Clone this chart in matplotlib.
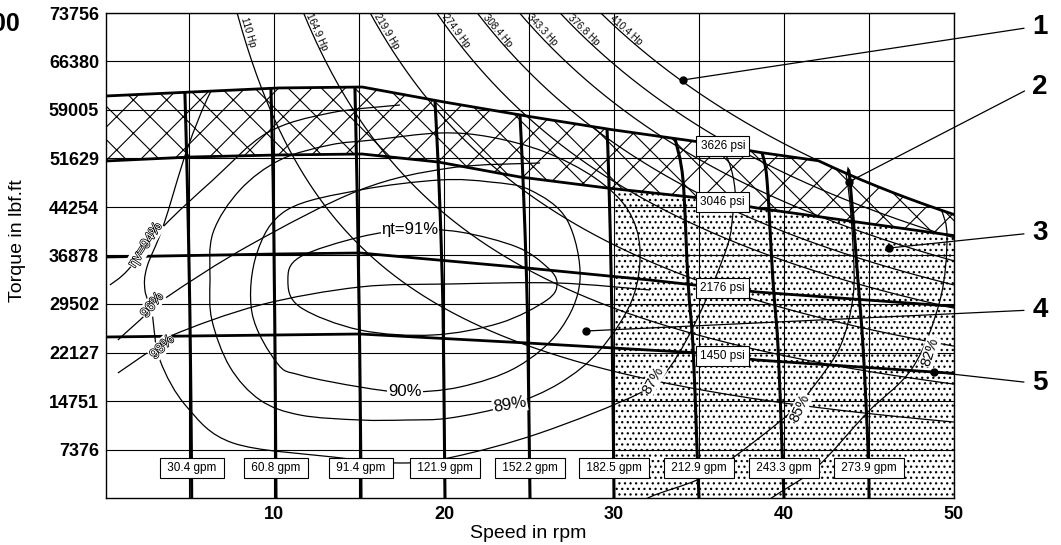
"""
Hydraulic motor performance chart: torque vs speed with efficiency maps.
"""

import numpy as np
import matplotlib

matplotlib.use("Agg")
import matplotlib.pyplot as plt
import matplotlib.patheffects as pe
from matplotlib.path import Path
from matplotlib.patches import PathPatch, Polygon

plt.rcParams["font.family"] = ["Liberation Sans", "DejaVu Sans"]
plt.rcParams["hatch.color"] = "black"
NARROW = ["Liberation Sans Narrow", "Liberation Sans", "DejaVu Sans"]

# ---- axes ----
speed_ticks = [10, 20, 30, 40, 50]
speed_minor = [5, 15, 25, 35, 45]
torque_step = 7375.6
torque_labels = ["7376", "14751", "22127", "29502", "36878",
                 "44254", "51629", "59005", "66380", "73756"]

# ---- constant power curves (Hp) ----
power_hp = [110, 164.9, 219.9, 274.9, 308.4, 343.3, 376.8, 410.4]

# ---- constant pressure lines: speed (rpm), torque (lbf.ft) ----
p3626_n = [0.12, 5.12, 10.18, 15.18, 19.65, 24.47, 29.59, 35.06, 38.41, 42.53, 50]
p3626_t = [61136, 61744, 62353, 62505, 60376, 58247, 56118, 54141, 52620, 51099, 48665]
p3046_n = [0.12, 5.12, 10.18, 15.18, 19.65, 24.47, 29.59, 35.06, 38.41, 50]
p3046_t = [51250, 51858, 52162, 52314, 51098, 48817, 47144, 45623, 44103, 39900]
p2176_n = [0.12, 10.18, 15.06, 24.88, 32.1, 38.41, 50]
p2176_t = [36651, 37108, 37260, 34978, 33153, 31328, 29150]
p1450_n = [0.12, 15.06, 24.88, 35.06, 38.41, 50]
p1450_t = [24485, 24941, 23573, 22052, 20987, 18950]
pressure_labels = ["3626 psi", "3046 psi", "2176 psi", "1450 psi"]

# ---- constant flow lines (gpm): speed at each torque level ----
flow_labels = ["30.4", "60.8", "91.4", "121.9", "152.2",
               "182.5", "212.9", "243.3", "273.9"]
flow_levels = [0, 7756, 22964, 33153, 48361]
flow_n = [
    [5.16, 5.14, 5.08, 5.02, 4.90, 4.76],
    [10.12, 10.10, 10.06, 10.02, 9.95, 9.82],
    [15.12, 15.10, 15.04, 14.98, 14.88, 14.76],
    [20.06, 20.03, 19.97, 19.90, 19.70, 19.47],
    [25.06, 25.02, 24.94, 24.86, 24.65, 24.47],
    [30.00, 29.97, 29.90, 29.84, 29.70, 29.59],
    [35.00, 34.88, 34.65, 34.35, 34.06, 33.59],
    [40.00, 39.88, 39.65, 39.35, 39.00, 38.71],
    [45.00, 44.94, 44.65, 44.35, 43.88, 43.76],
]
flow_top = [61700, 62350, 62500, 60400, 58250, 56120, 54670, 52510, 49260]

# ---- total efficiency contours (rpm, lbf.ft) ----
eff91_n = [10.82, 11.53, 15.06, 18.0, 20.94, 24.29, 26.06, 26.65, 26.06, 23.29, 19.35, 15.06, 11.53, 10.82]
eff91_t = [33153, 36651, 39693, 40757, 40453, 38172, 35130, 32697, 30112, 26614, 24789, 25549, 29047, 33153]
eff90_n = [8.71, 9.0, 10.76, 15.06, 19.76, 22.71, 25.06, 27.24, 28.0, 26.82, 24.29, 20.94, 17.71, 15.06, 11.53, 10.18, 8.71]
eff90_t = [28135, 37260, 43799, 46841, 48361, 48057, 46841, 42278, 33153, 25549, 19922, 16881, 16120, 16881, 18706, 20531, 28135]
eff89_n = [6.24, 6.41, 8.0, 10.35, 13.29, 15.82, 19.76, 22.71, 25.94, 28.88, 30.82, 31.53, 31.06,
           29.18, 26.82, 23.88, 20.35, 17.82, 15.06, 11.53, 9.18, 7.41, 6.35, 6.24]
eff89_t = [33153, 40301, 46841, 51403, 53684, 54445, 55509, 54901, 52620, 48666, 43799, 37716, 30112,
           22508, 17489, 14143, 12166, 11862, 11862, 12623, 14904, 19922, 27070, 33153]
eff87_n = [2.41, 2.82, 3.29, 4.88, 7.59, 13.47, 17.41, 20.53, 25.65, 31.53, 33.29, 35.06, 36.65, 37.0,
           37.12, 36.71, 35.65, 33.88, 29.18, 20.35, 11.53, 7.41, 6.24, 4.88, 3.47, 2.53, 2.41]
eff87_t = [31633, 28135, 20987, 13839, 8364, 6235, 5323, 6235, 9885, 15968, 19922, 28135, 38172, 43343,
           46841, 51403, 55965, 60528, 66611, 69652, 68892, 65851, 61592, 52924, 41214, 35130, 31633]
eff85_n = [30.35, 32.12, 34.88, 36.82, 40.35, 41.71, 43.29, 44.06, 44.06, 43.71, 43.0, 41.53, 38.59]
eff85_t = [-2585, 152, 2737, 5779, 12927, 16881, 22964, 30568, 38172, 48361, 54445, 59007, 63570]
eff82_n = [37.41, 39.35, 41.94, 44.88, 47.59, 49.18, 49.59, 49.18, 48.29, 46.82]
eff82_t = [-3346, 152, 4714, 12927, 19922, 30112, 39693, 44255, 48361, 51403]

# ---- volumetric efficiency lines ----
vol94_n = [0.35, 1.41, 3.47, 6.41, 9.59, 13.29, 17.41]
vol94_t = [32393, 34674, 41214, 48361, 55509, 58551, 59768]
vol96_n = [0.82, 2.12, 3.71, 8.59, 15.06, 20.35, 25.65]
vol96_t = [24029, 27070, 30568, 38476, 46841, 50187, 50947]
vol98_n = [0.82, 2.53, 4.06, 9.18, 15.06, 20.35, 26.65, 32.12]
vol98_t = [19010, 22052, 24789, 29351, 32089, 32545, 32697, 31633]

# label text, speed, torque, angle, size, hollow
eff_labels = [
    ("\u03b7t=91%", 18.0, 40757, 0, 12, False),
    ("90%", 17.71, 16120, 0, 12, False),
    ("89%", 23.88, 14143, 10, 12, False),
    ("87%", 32.29, 17945, 60, 10.5, False),
    ("85%", 40.94, 13687, 65, 10.5, False),
    ("82%", 48.59, 22204, 72, 10.5, False),
    ("\u03b7v=94%", 2.41, 38476, 57, 10, True),
    ("96%", 2.82, 29351, 52, 10, True),
    ("98%", 3.41, 22964, 45, 10, True),
]

# ---- callouts ----
callout_labels = ["1", "2", "3", "4", "5"]
callout_n = [34.06, 43.8, 46.2, 28.35, 48.8]
callout_t = [63570, 48056, 38019, 25396, 19162]
callout_px = [(1040, 27), (1040, 87), (1040, 233), (1040, 310), (1040, 383)]


def smooth_path(n, t, closed=False):
    """Catmull-Rom curve through the read points, as cubic Bezier segments."""
    pts = np.column_stack([n, t]).astype(float)
    if closed:
        pts = pts[:-1]
        m = len(pts)
        segs = m

        def idx(i):
            return pts[i % m]
    else:
        m = len(pts)
        segs = m - 1

        def idx(i):
            return pts[min(max(i, 0), m - 1)]

    verts = [pts[0]]
    codes = [Path.MOVETO]
    for i in range(segs):
        p0, p1, p2, p3 = idx(i - 1), idx(i), idx(i + 1), idx(i + 2)
        verts += [p1 + (p2 - p0) / 6, p2 - (p3 - p1) / 6, p2]
        codes += [Path.CURVE4] * 3
    return Path(verts, codes)


W, H = 1061, 545
fig = plt.figure(figsize=(W / 100, H / 100), dpi=100)
ax = fig.add_axes([106 / W, 1 - 498 / H, 848 / W, 485 / H])
ax.set_xlim(0.12, 50)
ax.set_ylim(0, 10 * torque_step)

# grid and ticks
ax.set_xticks(speed_ticks)
ax.set_xticks(speed_minor, minor=True)
ax.set_xticklabels([str(s) for s in speed_ticks], fontsize=13, fontweight="bold")
ax.set_yticks([torque_step * (k + 1) for k in range(len(torque_labels))])
ax.set_yticklabels(torque_labels, fontsize=13, fontweight="bold")
ax.tick_params(which="both", length=0)
ax.tick_params(axis="x", pad=6)
ax.tick_params(axis="y", pad=5)
ax.grid(which="both", color="black", lw=0.8)
ax.set_axisbelow(True)
for s in ax.spines.values():
    s.set_linewidth(1.0)

# operating envelope
n_env = np.linspace(0.12, 50, 600)
upper = np.minimum(np.interp(n_env, p3626_n, p3626_t), power_hp[-1] * 5252 / n_env)
lower = np.interp(n_env, p3046_n, p3046_t)
env = Polygon(np.column_stack([np.r_[n_env, 50, 0.12], np.r_[upper, 0, 0]]),
              transform=ax.transData)

plt.rcParams["hatch.linewidth"] = 0.8
ax.fill_between(n_env, lower, upper, facecolor="none", edgecolor="black",
                hatch="x", lw=0, zorder=2)
plt.rcParams["hatch.linewidth"] = 0.9
n_dot = np.linspace(30, 50, 200)
ax.fill_between(n_dot, 0, np.interp(n_dot, p3046_n, p3046_t), facecolor="none",
                edgecolor="black", hatch="...", lw=0, zorder=2)

# efficiency contours
for cn, ct, closed in [(eff91_n, eff91_t, True), (eff90_n, eff90_t, True),
                       (eff89_n, eff89_t, True), (eff87_n, eff87_t, True),
                       (eff85_n, eff85_t, False), (eff82_n, eff82_t, False),
                       (vol94_n, vol94_t, False), (vol96_n, vol96_t, False),
                       (vol98_n, vol98_t, False)]:
    patch = PathPatch(smooth_path(cn, ct, closed), fill=False, lw=0.9,
                      ec="black", zorder=3)
    ax.add_patch(patch)
    patch.set_clip_path(env)

# constant power curves
for p in power_hp:
    n = np.linspace(p * 5252 / (10 * torque_step), 50, 300)
    ax.plot(n, p * 5252 / n, color="black", lw=0.9, zorder=3)

# pressure lines and envelope outline
ax.plot(n_env, upper, color="black", lw=2.0, zorder=4)
for pn, pt in [(p3046_n, p3046_t), (p2176_n, p2176_t), (p1450_n, p1450_t)]:
    ax.plot(pn, pt, color="black", lw=2.0, zorder=4)

# flow lines
for fn, top in zip(flow_n, flow_top):
    ax.add_patch(PathPatch(smooth_path(fn, flow_levels + [top]), fill=False,
                           lw=2.2, ec="black", zorder=4))

# power labels
t_lab = 70600
for p in power_hp:
    n = p * 5252 / t_lab
    a = ax.transData.transform((n, t_lab))
    b = ax.transData.transform((n * 1.01, p * 5252 / (n * 1.01)))
    ang = np.degrees(np.arctan2(b[1] - a[1], b[0] - a[0]))
    ax.text(n, t_lab, f"{p:g} Hp", rotation=ang, rotation_mode="anchor",
            ha="center", va="bottom", fontsize=7, family=NARROW,
            fontstretch="condensed", zorder=6)

# pressure labels
box = dict(boxstyle="square,pad=0.35", fc="white", ec="black", lw=0.8)
for lab, (pn, pt) in zip(pressure_labels, [(p3626_n, p3626_t), (p3046_n, p3046_t),
                                           (p2176_n, p2176_t), (p1450_n, p1450_t)]):
    ax.text(36.4, np.interp(36.4, pn, pt), lab, ha="center", va="center",
            fontsize=8.5, family=NARROW, fontstretch="condensed", bbox=box, zorder=6)

# flow labels
for lab, fn in zip(flow_labels, flow_n):
    ax.text(fn[0], 4562, f" {lab} gpm ", ha="center", va="center",
            fontsize=8.5, family=NARROW, fontstretch="condensed", bbox=box, zorder=6)

# efficiency labels
for text, n, t, ang, size, hollow in eff_labels:
    kw = dict(rotation=ang, ha="center", va="center", fontsize=size,
              family=NARROW, fontstretch="condensed", zorder=6,
              bbox=dict(boxstyle="square,pad=0.05", fc="white", ec="none"))
    if hollow:
        kw["color"] = "white"
        kw["path_effects"] = [pe.withStroke(linewidth=1.1, foreground="black")]
    ax.text(n, t, text, **kw)

# callouts
ax.plot(callout_n, callout_t, "ko", ms=5, zorder=7)
for lab, n, t, (px, py) in zip(callout_labels, callout_n, callout_t, callout_px):
    ax.annotate(lab, xy=(n, t), xycoords="data", xytext=(px, H - py),
                textcoords="figure pixels", ha="center", va="center",
                fontsize=20, fontweight="bold",
                arrowprops=dict(arrowstyle="-", lw=0.9, color="black",
                                shrinkA=4, shrinkB=0, relpos=(0, 0.5)))

# axis titles
fig.text(528 / W, 1 - 533 / H, "Speed in rpm", ha="center", va="center", fontsize=14)
fig.text(18 / W, 1 - 241 / H, "Torque in lbf.ft", ha="center", va="center",
         rotation=90, fontsize=14)
fig.text(20 / W, 1 - 24 / H, "00", ha="right", va="center", fontsize=18,
         fontweight="bold")

fig.savefig("out.png", dpi=100)
